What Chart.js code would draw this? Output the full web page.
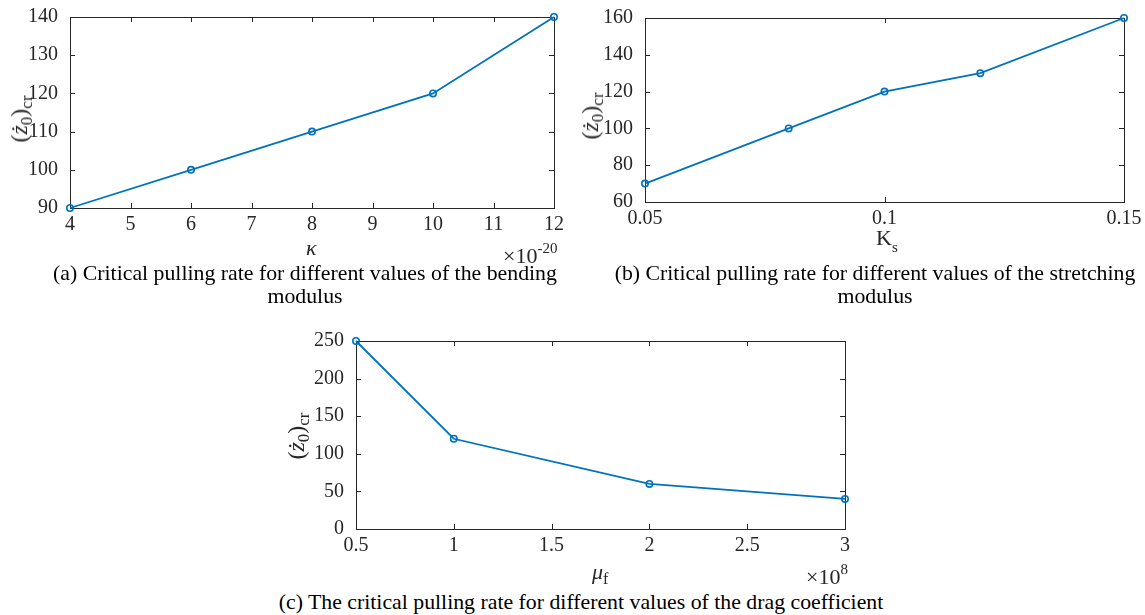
<!DOCTYPE html>
<html><head><meta charset="utf-8">
<script src="https://cdn.jsdelivr.net/npm/chart.js@4"></script>
<style>
body{margin:0;background:#fff;width:1145px;height:615px;position:relative;overflow:hidden;font-family:"Liberation Serif","Times New Roman",serif;color:#000}
canvas{position:absolute}
.t{position:absolute;white-space:nowrap;color:#262626;font-size:22px;line-height:1}
.yl{position:absolute;white-space:nowrap;color:#262626;font-size:24px;line-height:1;transform:translate(-50%,-50%) rotate(-90deg)}
.yl sub{font-size:17px;vertical-align:-5px;line-height:1}
.t sub{font-size:16px;vertical-align:-5px}
.t sup{font-size:15px;vertical-align:10px}
.cap{position:absolute;white-space:nowrap;text-align:center;font-size:21.8px;color:#000;line-height:23px;transform:translateX(-50%)}
</style></head>
<body>
<canvas id="ca" width="590" height="240" style="left:0;top:0"></canvas>
<canvas id="cb" width="1145" height="240" style="left:0;top:0"></canvas>
<canvas id="cc" width="900" height="560" style="left:0;top:0"></canvas>

<div class="yl" style="left:21px;top:119px">(<i>ż</i><sub>0</sub>)<sub>cr</sub></div>
<div class="yl" style="left:592px;top:116px">(<i>ż</i><sub>0</sub>)<sub>cr</sub></div>
<div class="yl" style="left:298px;top:436px">(<i>ż</i><sub>0</sub>)<sub>cr</sub></div>

<div class="t" style="left:306px;top:237px"><i>κ</i></div>
<div class="t" style="left:503px;top:241px">×10<sup>-20</sup></div>
<div class="t" style="left:876px;top:227px">K<sub style="font-size:15px;vertical-align:-7px">s</sub></div>
<div class="t" style="left:592px;top:561px"><i>μ</i><sub>f</sub></div>
<div class="t" style="left:806px;top:562px">×10<sup>8</sup></div>

<div class="cap" style="left:305px;top:262px">(a) Critical pulling rate for different values of the bending<br>modulus</div>
<div class="cap" style="left:875px;top:262px">(b) Critical pulling rate for different values of the stretching<br>modulus</div>
<div class="cap" style="left:581px;top:591px">(c) The critical pulling rate for different values of the drag coefficient</div>

<script>
// ---- data ----
const aKappa = [4, 6, 8, 10, 12];            // ×10^-20
const aRate  = [90, 100, 110, 120, 140];
const aXTicks = [4, 5, 6, 7, 8, 9, 10, 11, 12];
const aYTicks = [90, 100, 110, 120, 130, 140];

const bKs    = [0.05, 0.08, 0.1, 0.12, 0.15];
const bRate  = [70, 100, 120, 130, 160];
const bXTicks = [0.05, 0.1, 0.15];
const bYTicks = [60, 80, 100, 120, 140, 160];

const cMu    = [0.5, 1, 2, 3];               // ×10^8
const cRate  = [250, 120, 60, 40];
const cXTicks = [0.5, 1, 1.5, 2, 2.5, 3];
const cYTicks = [0, 50, 100, 150, 200, 250];

const LINE = '#0072BD';
const AX = '#262626';

const boxPlugin = {
  id: 'mbox',
  beforeDatasetsDraw(chart) {
    const {ctx, chartArea: a, scales} = chart;
    ctx.save();
    ctx.strokeStyle = AX;
    ctx.lineWidth = 1;
    const L = 5;
    ctx.beginPath();
    scales.x.ticks.forEach(t => {
      const px = Math.round(scales.x.getPixelForValue(t.value)) + 0.5;
      ctx.moveTo(px, a.bottom); ctx.lineTo(px, a.bottom - L);
      ctx.moveTo(px, a.top); ctx.lineTo(px, a.top + L);
    });
    scales.y.ticks.forEach(t => {
      const py = Math.round(scales.y.getPixelForValue(t.value)) + 0.5;
      ctx.moveTo(a.left, py); ctx.lineTo(a.left + L, py);
      ctx.moveTo(a.right, py); ctx.lineTo(a.right - L, py);
    });
    ctx.stroke();
    ctx.strokeRect(Math.round(a.left) + 0.5, Math.round(a.top) + 0.5,
                   Math.round(a.right - a.left), Math.round(a.bottom - a.top));
    ctx.restore();
  }
};

function makeChart(id, xs, ys, xTicks, yTicks, geo) {
  const font = {family: '"Liberation Serif","Times New Roman",serif', size: 20};
  new Chart(document.getElementById(id), {
    type: 'line',
    data: {
      datasets: [{
        data: xs.map((x, i) => ({x, y: ys[i]})),
        borderColor: LINE,
        backgroundColor: 'transparent',
        borderWidth: 1.8,
        pointRadius: 3.2,
        pointBorderWidth: 1.6,
        pointBorderColor: LINE,
        pointBackgroundColor: 'transparent',
        pointStyle: 'circle',
        tension: 0,
        clip: false
      }]
    },
    options: {
      responsive: false,
      devicePixelRatio: 1,
      animation: false,
      events: [],
      layout: {padding: {left: geo.padL, top: geo.top, right: geo.padR, bottom: 0}},
      plugins: {legend: {display: false}, tooltip: {enabled: false}},
      scales: {
        x: {
          type: 'linear',
          min: xTicks[0], max: xTicks[xTicks.length - 1],
          grid: {display: false}, border: {display: false},
          afterBuildTicks: s => { s.ticks = xTicks.map(v => ({value: v})); },
          afterFit: s => { s.height = geo.xh; },
          ticks: {font, color: AX, padding: -3, maxRotation: 0, autoSkip: false,
                  callback: v => String(v)}
        },
        y: {
          type: 'linear',
          min: yTicks[0], max: yTicks[yTicks.length - 1],
          grid: {display: false}, border: {display: false},
          afterBuildTicks: s => { s.ticks = yTicks.map(v => ({value: v})); },
          afterFit: s => { s.width = geo.yw; },
          ticks: {font, color: AX, padding: 4, autoSkip: false,
                  callback: v => String(v)}
        }
      }
    },
    plugins: [boxPlugin]
  });
}

// chart areas: a: x 70-554, y 17-208 ; b: x 645-1124, y 18-202 ; c: x 356-845, y 341-529
makeChart('ca', aKappa, aRate, aXTicks, aYTicks, {padL: 0, yw: 70, top: 17, padR: 590 - 554, xh: 240 - 208});
makeChart('cb', bKs, bRate, bXTicks, bYTicks, {padL: 575, yw: 70, top: 18, padR: 1145 - 1124, xh: 240 - 202});
makeChart('cc', cMu, cRate, cXTicks, cYTicks, {padL: 286, yw: 70, top: 341, padR: 900 - 845, xh: 560 - 529});
</script>
</body></html>
